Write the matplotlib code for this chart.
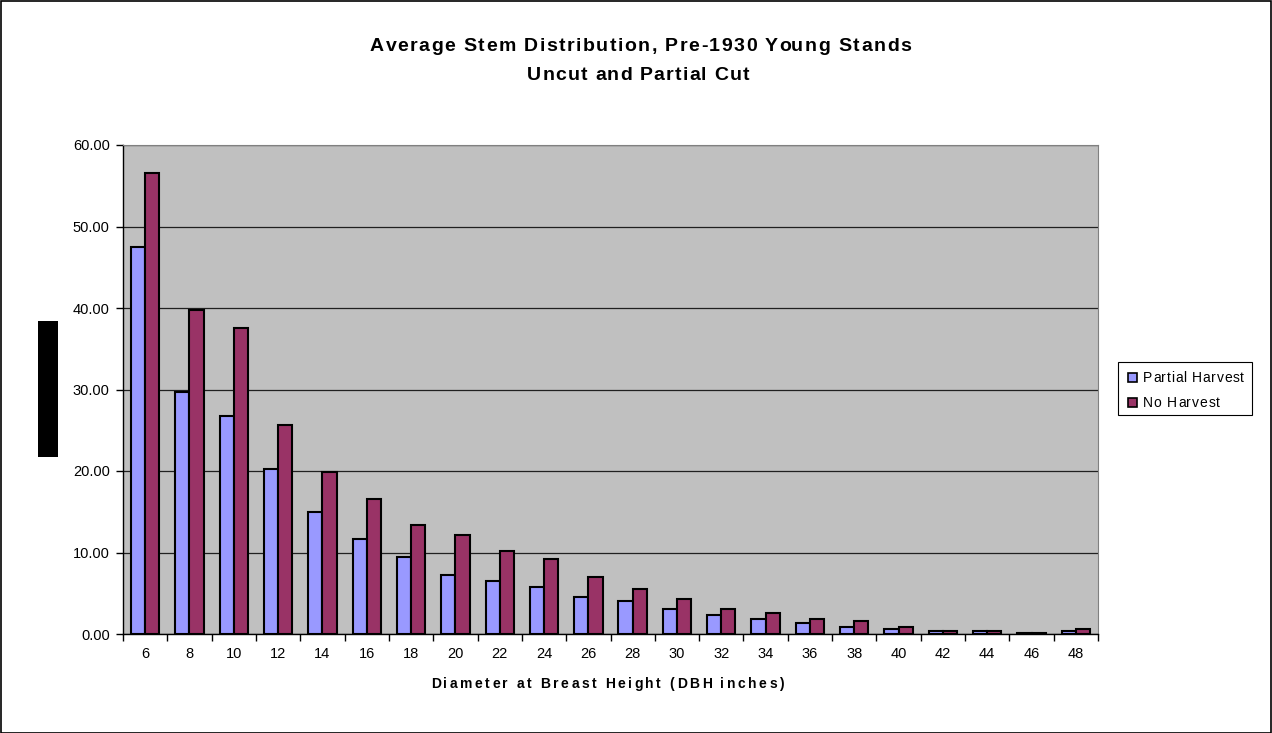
import matplotlib
matplotlib.use("Agg")
import matplotlib.pyplot as plt
import numpy as np
from matplotlib.patches import Rectangle
from matplotlib.font_manager import FontProperties

plt.rcParams['font.family'] = ['Liberation Sans', 'DejaVu Sans']

dbh = ["6", "8", "10", "12", "14", "16", "18", "20", "22", "24", "26", "28",
       "30", "32", "34", "36", "38", "40", "42", "44", "46", "48"]
partial_harvest = [47.5, 29.7, 26.7, 20.3, 15.0, 11.7, 9.4, 7.2, 6.5, 5.8, 4.5, 4.0,
                   3.1, 2.3, 1.8, 1.4, 0.9, 0.6, 0.4, 0.4, 0.15, 0.4]
no_harvest = [56.6, 39.7, 37.5, 25.7, 19.9, 16.6, 13.4, 12.1, 10.2, 9.2, 7.0, 5.5,
              4.3, 3.1, 2.6, 1.8, 1.6, 0.9, 0.4, 0.4, 0.15, 0.6]
yticks = [0, 10, 20, 30, 40, 50, 60]
series_names = ["Partial Harvest", "No Harvest"]
series_colors = ['#9999FF', '#993366']
title_lines = ["Average Stem Distribution, Pre-1930 Young Stands", "Uncut and Partial Cut"]
xlabel = "Diameter at Breast Height (DBH inches)"

W, H = 1272, 733
fig = plt.figure(figsize=(W / 100, H / 100), dpi=100)
fig.patch.set_facecolor('white')
fig.add_artist(Rectangle((0.5 / W, 0.5 / H), 1 - 1.5 / W, 1 - 1.5 / H, transform=fig.transFigure,
                         fill=False, edgecolor='black', linewidth=1.2))

renderer = fig.canvas.get_renderer()


def text_w(s, prop):
    return renderer.get_text_width_height_descent(s, prop, ismath=False)[0]


def spaced_text(x_left, y_base, s, size, target_w, weight='bold'):
    prop = FontProperties(family='Liberation Sans', size=size, weight=weight)
    ref = text_w("x", prop)
    full = text_w(s + "x", prop) - ref
    extra = (target_w - full) / max(len(s) - 1, 1)
    for i, ch in enumerate(s):
        if ch == " ":
            continue
        pw = text_w(s[:i] + "x", prop) - ref if i > 0 else 0
        fig.text((x_left + pw + i * extra) / W, 1 - y_base / H, ch, fontproperties=prop,
                 ha='left', va='baseline')


left, right, top, bottom = 123, 1098, 145, 634
ax = fig.add_axes([left / W, 1 - bottom / H, (right - left) / W, (bottom - top) / H])
ax.set_facecolor('#C0C0C0')

x = np.arange(len(dbh))
bw = 0.32
ax.bar(x - bw / 2, partial_harvest, bw, color=series_colors[0], edgecolor='black', linewidth=1.5,
       label=series_names[0], zorder=3)
ax.bar(x + bw / 2, no_harvest, bw, color=series_colors[1], edgecolor='black', linewidth=1.5,
       label=series_names[1], zorder=3)

ax.set_xlim(-0.5, len(dbh) - 0.5)
ax.set_ylim(0, 60)
ax.set_yticks(yticks)
ax.set_yticklabels([f"{v:.2f}" for v in yticks], fontsize=10.5)
ax.yaxis.grid(True, color='#202020', linewidth=0.9, zorder=1)
ax.set_axisbelow(True)

ax.set_xticks(x)
ax.set_xticklabels(dbh, fontsize=10.5)
ax.tick_params(axis='x', length=0, pad=9)
ax.set_xticks(np.arange(-0.5, len(dbh) + 0.5, 1), minor=True)
ax.tick_params(axis='x', which='minor', length=5, direction='out', width=1)
ax.tick_params(axis='y', length=5, direction='out', pad=4.5, width=1)

for s in ['top', 'right']:
    ax.spines[s].set_color('#808080')
for s in ['left', 'bottom']:
    ax.spines[s].set_color('black')
    ax.spines[s].set_linewidth(1.0)

# titles and axis label (wide letter spacing as in the original)
spaced_text(370, 51, title_lines[0], 14, 541)
spaced_text(527, 80, title_lines[1], 14, 222)
spaced_text(431, 688, xlabel, 10, 353)

# legend
fig.add_artist(Rectangle((1118 / W, 1 - 415 / H), 134 / W, 53 / H, transform=fig.transFigure,
                         facecolor='white', edgecolor='black', linewidth=0.8))
leg_rows = [(372, 382, 1143, 101), (397, 407, 1143, 77)]
for (ytop, ybase, xt, tw), name, col in zip(leg_rows, series_names, series_colors):
    fig.add_artist(Rectangle((1127.5 / W, 1 - (ytop + 9.5) / H), 9 / W, 9 / H,
                             transform=fig.transFigure, facecolor=col, edgecolor='black',
                             linewidth=1.2))
    spaced_text(xt, ybase, name, 10, tw, weight='normal')

# black box covering the y-axis label
fig.add_artist(Rectangle((38 / W, 1 - 457 / H), 20 / W, 136 / H, transform=fig.transFigure,
                         facecolor='black', edgecolor='none'))

fig.savefig("out.png", dpi=100)
